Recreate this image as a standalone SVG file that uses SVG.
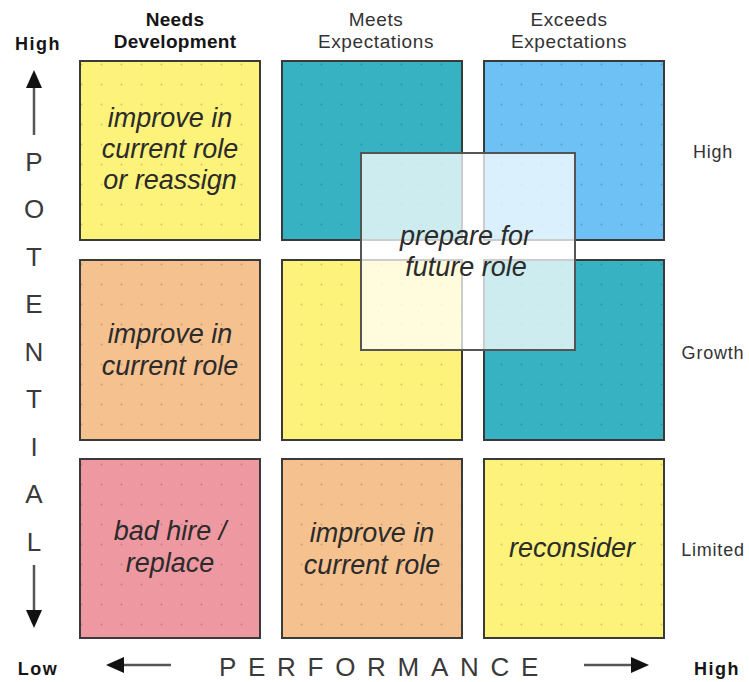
<svg xmlns="http://www.w3.org/2000/svg" width="749" height="682" viewBox="0 0 749 682">
  <defs>
    <style>
      .cell { stroke: #3a3a3a; stroke-width: 2; }
      .dots { fill: url(#dotgrid); stroke: none; }
      .yellow { fill: #fef37a; }
      .teal { fill: #37b2c3; }
      .blue { fill: #6ec1f4; }
      .peach { fill: #f5c18f; }
      .pink { fill: #ee99a1; }
      .label { font-family: "Liberation Sans", Arial, sans-serif; font-style: italic; font-size: 27px; fill: #2b2b2b; text-anchor: middle; }
      .head { font-family: "Liberation Sans", Arial, sans-serif; font-size: 19px; fill: #333; text-anchor: middle; letter-spacing: 0.6px; }
      .head-b { font-family: "Liberation Sans", Arial, sans-serif; font-size: 19px; font-weight: bold; fill: #151515; text-anchor: middle; letter-spacing: 0.3px; }
      .row { font-family: "Liberation Sans", Arial, sans-serif; font-size: 18px; fill: #333; text-anchor: middle; letter-spacing: 0.8px; }
      .end { font-family: "Liberation Sans", Arial, sans-serif; font-size: 18px; font-weight: bold; fill: #151515; text-anchor: middle; letter-spacing: 1.5px; }
      .axis { font-family: "Liberation Sans", Arial, sans-serif; font-size: 26px; fill: #3a3a3a; }
      .arrow { stroke: #555; stroke-width: 2.5; fill: none; marker-end: url(#tip); }
    </style>
    <pattern id="dotgrid" patternUnits="userSpaceOnUse" width="20" height="20">
      <circle cx="1.5" cy="4.5" r="0.9" fill="#000" fill-opacity="0.2"/>
    </pattern>
    <marker id="tip" viewBox="0 0 18 16" refX="0" refY="8" markerWidth="18" markerHeight="16" orient="auto" markerUnits="userSpaceOnUse">
      <path d="M0,0 L18,8 L0,16 z" fill="#111"/>
    </marker>
  </defs>

  <rect width="749" height="682" fill="#fff"/>

  <!-- column headings -->
  <g id="col-needs">
    <text class="head-b" x="175" y="26">Needs</text>
    <text class="head-b" x="175" y="48">Development</text>
  </g>
  <g id="col-meets">
    <text class="head" x="376" y="26">Meets</text>
    <text class="head" x="376" y="48">Expectations</text>
  </g>
  <g id="col-exceeds">
    <text class="head" x="569" y="26">Exceeds</text>
    <text class="head" x="569" y="48">Expectations</text>
  </g>

  <!-- row headings -->
  <g id="row-high"><text class="row" x="713" y="158">High</text></g>
  <g id="row-growth"><text class="row" x="713" y="359">Growth</text></g>
  <g id="row-limited"><text class="row" x="713" y="556">Limited</text></g>

  <!-- grid cells: top row -->
  <g id="cell-1-1">
    <rect class="yellow" x="80" y="61" width="180" height="179"/>
    <rect class="dots" x="80" y="61" width="180" height="179"/>
    <rect class="cell" x="80" y="61" width="180" height="179" fill="none"/>
    <text class="label" x="170" y="127">improve in</text>
    <text class="label" x="170" y="158">current role</text>
    <text class="label" x="170" y="189">or reassign</text>
  </g>
  <g id="cell-1-2">
    <rect class="teal" x="282" y="61" width="180" height="179"/>
    <rect class="dots" x="282" y="61" width="180" height="179"/>
    <rect class="cell" x="282" y="61" width="180" height="179" fill="none"/>
  </g>
  <g id="cell-1-3">
    <rect class="blue" x="484" y="61" width="180" height="179"/>
    <rect class="dots" x="484" y="61" width="180" height="179"/>
    <rect class="cell" x="484" y="61" width="180" height="179" fill="none"/>
  </g>

  <!-- grid cells: middle row -->
  <g id="cell-2-1">
    <rect class="peach" x="80" y="260" width="180" height="180"/>
    <rect class="dots" x="80" y="260" width="180" height="180"/>
    <rect class="cell" x="80" y="260" width="180" height="180" fill="none"/>
    <text class="label" x="170" y="343">improve in</text>
    <text class="label" x="170" y="375">current role</text>
  </g>
  <g id="cell-2-2">
    <rect class="yellow" x="282" y="260" width="180" height="180"/>
    <rect class="dots" x="282" y="260" width="180" height="180"/>
    <rect class="cell" x="282" y="260" width="180" height="180" fill="none"/>
  </g>
  <g id="cell-2-3">
    <rect class="teal" x="484" y="260" width="180" height="180"/>
    <rect class="dots" x="484" y="260" width="180" height="180"/>
    <rect class="cell" x="484" y="260" width="180" height="180" fill="none"/>
  </g>

  <!-- grid cells: bottom row -->
  <g id="cell-3-1">
    <rect class="pink" x="80" y="459" width="180" height="179"/>
    <rect class="dots" x="80" y="459" width="180" height="179"/>
    <rect class="cell" x="80" y="459" width="180" height="179" fill="none"/>
    <text class="label" x="170" y="540">bad hire /</text>
    <text class="label" x="170" y="572">replace</text>
  </g>
  <g id="cell-3-2">
    <rect class="peach" x="282" y="459" width="180" height="179"/>
    <rect class="dots" x="282" y="459" width="180" height="179"/>
    <rect class="cell" x="282" y="459" width="180" height="179" fill="none"/>
    <text class="label" x="372" y="542">improve in</text>
    <text class="label" x="372" y="574">current role</text>
  </g>
  <g id="cell-3-3">
    <rect class="yellow" x="484" y="459" width="180" height="179"/>
    <rect class="dots" x="484" y="459" width="180" height="179"/>
    <rect class="cell" x="484" y="459" width="180" height="179" fill="none"/>
    <text class="label" x="572" y="557">reconsider</text>
  </g>

  <!-- translucent overlay spanning four cells -->
  <g id="future-role">
    <rect x="361" y="153" width="214" height="197" fill="#fff" fill-opacity="0.75" stroke="#555" stroke-width="2"/>
    <text class="label" x="466" y="245">prepare for</text>
    <text class="label" x="466" y="276">future role</text>
  </g>

  <!-- potential axis -->
  <g id="potential-axis">
    <text class="end" x="38" y="50">High</text>
    <text class="end" x="38" y="675">Low</text>
    <g class="axis" text-anchor="middle">
      <text x="34" y="171">P</text>
      <text x="34" y="218">O</text>
      <text x="34" y="266">T</text>
      <text x="34" y="313">E</text>
      <text x="34" y="361">N</text>
      <text x="34" y="408">T</text>
      <text x="34" y="456">I</text>
      <text x="34" y="503">A</text>
      <text x="34" y="551">L</text>
    </g>
  </g>

  <!-- performance axis -->
  <g id="performance-axis">
    <text class="end" x="717" y="675">High</text>
    <text class="axis" x="219" y="676" letter-spacing="11.7">PERFORMANCE</text>
  </g>

  <!-- axis arrows -->
  <g id="connectors">
    <line class="arrow" x1="34" y1="135" x2="34" y2="88"/>
    <line class="arrow" x1="34" y1="565" x2="34" y2="610"/>
    <line class="arrow" x1="171" y1="665" x2="124" y2="665"/>
    <line class="arrow" x1="584" y1="665" x2="631" y2="665"/>
  </g>
</svg>
